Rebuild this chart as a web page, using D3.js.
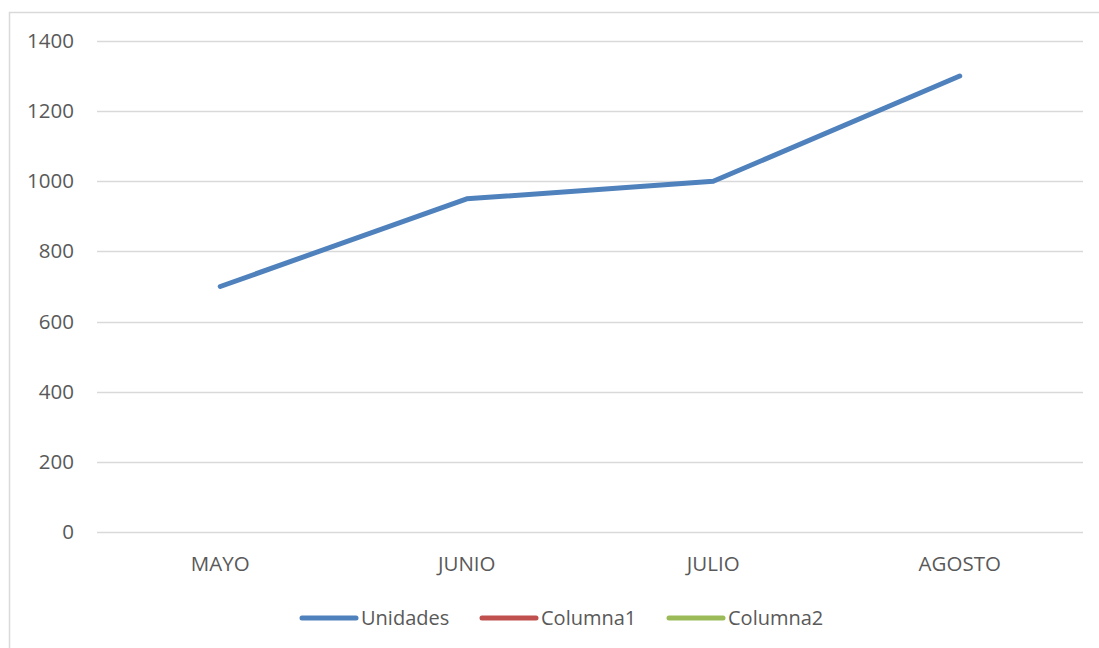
<!DOCTYPE html>
<html>
<head>
<meta charset="utf-8">
<script src="https://cdn.jsdelivr.net/npm/d3@7"></script>
<style>
  html, body { margin: 0; padding: 0; background: #fff; }
  svg { display: block; }
  text { font-family: "Open Sans", "Liberation Sans", sans-serif; fill: #595959; }
</style>
</head>
<body>
<svg id="chart" width="1099" height="648"></svg>
<script>
// Monthly data
const months = ["MAYO", "JUNIO", "JULIO", "AGOSTO"];
const unidades = [700, 950, 1000, 1300];
const yTicks = [0, 200, 400, 600, 800, 1000, 1200, 1400];
const seriesNames = ["Unidades", "Columna1", "Columna2"];
const seriesColors = ["#4F81BD", "#C0504D", "#9BBB59"];

const svg = d3.select("#chart");
const W = 1099, H = 648;
const plot = { left: 97, right: 1083, top: 41, bottom: 532 };
const FONT = "'Open Sans', 'Liberation Sans', sans-serif";

// Outer chart frame
svg.append("rect")
  .attr("x", 9.5).attr("y", 12.5)
  .attr("width", W + 20).attr("height", H + 20)
  .attr("fill", "#fff").attr("stroke", "#d9d9d9").attr("stroke-width", 1.5);

const x = d3.scaleBand().domain(months).range([plot.left, plot.right]);
const y = d3.scaleLinear().domain([0, 1400]).range([plot.bottom, plot.top]);

// Horizontal gridlines
svg.append("g").selectAll("line").data(yTicks).join("line")
  .attr("x1", plot.left).attr("x2", plot.right)
  .attr("y1", d => Math.round(y(d)) + 0.5).attr("y2", d => Math.round(y(d)) + 0.5)
  .attr("stroke", "#d9d9d9").attr("stroke-width", 1.3);

// Y axis labels
const yAxis = d3.axisLeft(y).tickValues(yTicks).tickFormat(d3.format("d"))
  .tickSize(0).tickPadding(0);
const gy = svg.append("g").attr("transform", "translate(74,0)").call(yAxis);
gy.select(".domain").remove();
gy.attr("font-family", null).attr("font-size", null);
gy.selectAll("text").style("font-size", "20.5px").attr("fill", "#595959")
  .style("font-family", FONT);

// X axis labels
const xAxis = d3.axisBottom(x).tickSize(0).tickPadding(0);
const gx = svg.append("g").attr("transform", "translate(0,564)").call(xAxis);
gx.select(".domain").remove();
gx.attr("font-family", null).attr("font-size", null);
gx.selectAll("text").style("font-size", "20.5px").attr("fill", "#595959")
  .style("font-family", FONT).attr("y", 0).attr("dy", "0.35em");

// Unidades line
const line = d3.line()
  .x((d, i) => x(months[i]) + x.bandwidth() / 2)
  .y(d => y(d));
svg.append("path").datum(unidades)
  .attr("d", line)
  .attr("fill", "none")
  .attr("stroke", seriesColors[0])
  .attr("stroke-width", 5)
  .attr("stroke-linecap", "round")
  .attr("stroke-linejoin", "round");

// Legend
const legendX = [302, 482, 669];
const legendY = 618;
const lg = svg.append("g").selectAll("g").data(seriesNames).join("g")
  .attr("transform", (d, i) => `translate(${legendX[i]},${legendY})`);
lg.append("line")
  .attr("x1", 0).attr("x2", 54).attr("y1", 0).attr("y2", 0)
  .attr("stroke", (d, i) => seriesColors[i])
  .attr("stroke-width", 5).attr("stroke-linecap", "round");
lg.append("text")
  .attr("x", 59).attr("y", 0).attr("dy", "0.35em")
  .style("font-size", "20px")
  .text(d => d);
</script>
</body>
</html>
